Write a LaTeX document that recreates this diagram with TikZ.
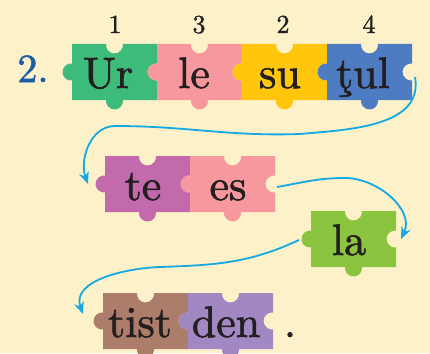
\documentclass[tikz,border=0pt]{standalone}
\usepackage{fontspec}
\usepackage{xcolor}
\usetikzlibrary{arrows.meta}
\newfontfamily\pzfont{lmroman10-regular}[Extension=.otf, FakeBold=1.4]
\definecolor{paper}{HTML}{FDF1CA}
\definecolor{ink}{HTML}{231F20}
\definecolor{numblue}{HTML}{1D5BA6}
\definecolor{flowblue}{HTML}{14A9E2}
\definecolor{pgreen}{HTML}{3DBB7B}
\definecolor{ppink}{HTML}{F6989D}
\definecolor{pyellow}{HTML}{FFC60B}
\definecolor{pblue}{HTML}{4E7CC2}
\definecolor{pviolet}{HTML}{C26AAC}
\definecolor{plime}{HTML}{8BC53F}
\definecolor{pbrown}{HTML}{AC7D6B}
\definecolor{plilac}{HTML}{A188C3}
\tikzset{piece/.pic={\fill[#1] (0,0) -- (34.06,0) arc[start angle=173.24,end angle=366.76,radius=8.5] -- (85,0) -- (85,-19.56) arc[start angle=83.24,end angle=276.76,radius=8.5] -- (85,-56) -- (50.94,-56) arc[start angle=6.76,end angle=-186.76,radius=8.5] -- (0,-56) -- (0,-36.44) arc[start angle=-83.24,end angle=-276.76,radius=8.5] -- cycle;}, word/.style={font=\pzfont\fontsize{44}{44}\selectfont, text=ink, anchor=base, inner sep=0pt}, num/.style={font=\pzfont\fontsize{26}{26}\selectfont, text=ink, anchor=base, inner sep=0pt}, flow/.style={-{Stealth[length=12pt,width=10pt]}, line width=1.8pt, color=flowblue}}
\begin{document}
\begin{tikzpicture}[x=1pt,y=1pt]
\fill[paper] (0,0) rectangle (430,-353);
\useasboundingbox (0,0) rectangle (430,-353);
\node[font=\pzfont\fontsize{40}{40}\selectfont, text=numblue, anchor=base, inner sep=0pt] (task) at (33,-82) {2.};
% first row
\pic at (72,-44) {piece=pgreen}; \node[word] (ur) at (108,-88) {Ur};
\pic at (157,-44) {piece=ppink}; \node[word] (le) at (194,-88) {le};
\pic at (242,-44) {piece=pyellow}; \node[word] (su) at (280,-88) {su};
\pic at (327,-44) {piece=pblue}; \node[word] (tul) at (363,-88) {ţul};
\node[num] (n1) at (115,-33) {1}; \node[num] (n3) at (199,-33) {3};
\node[num] (n2) at (283,-33) {2}; \node[num] (n4) at (369,-33) {4};
% second and third row
\pic at (105,-156) {piece=pviolet}; \node[word] (te) at (143,-200) {te};
\pic at (190,-156) {piece=ppink}; \node[word] (es) at (228,-200) {es};
\pic at (311,-211) {piece=plime}; \node[word] (la) at (349,-255) {la};
% last row
\pic at (103,-293) {piece=pbrown}; \node[word] (tist) at (140,-337) {tist};
\pic at (188,-293) {piece=plilac}; \node[word] (den) at (226,-337) {den};
\node[word] (dot) at (290,-337) {.};
% arrows
\coordinate (out1) at (415,-77); \coordinate (in1) at (88,-184);
\coordinate (out2) at (277,-187); \coordinate (in2) at (401,-239);
\coordinate (out3) at (299,-240); \coordinate (in3) at (83,-314);
\draw[flow] (out1) to[out=-80,in=5] (300,-134) to[out=182,in=0] (115,-126) to[out=180,in=110] (in1);
\draw[flow] (out2) to[out=10,in=180] (345,-178) to[out=0,in=65] (in2);
\draw[flow] (out3) to[out=205,in=2] (160,-267) to[out=182,in=110] (in3);
\end{tikzpicture}
\end{document}
